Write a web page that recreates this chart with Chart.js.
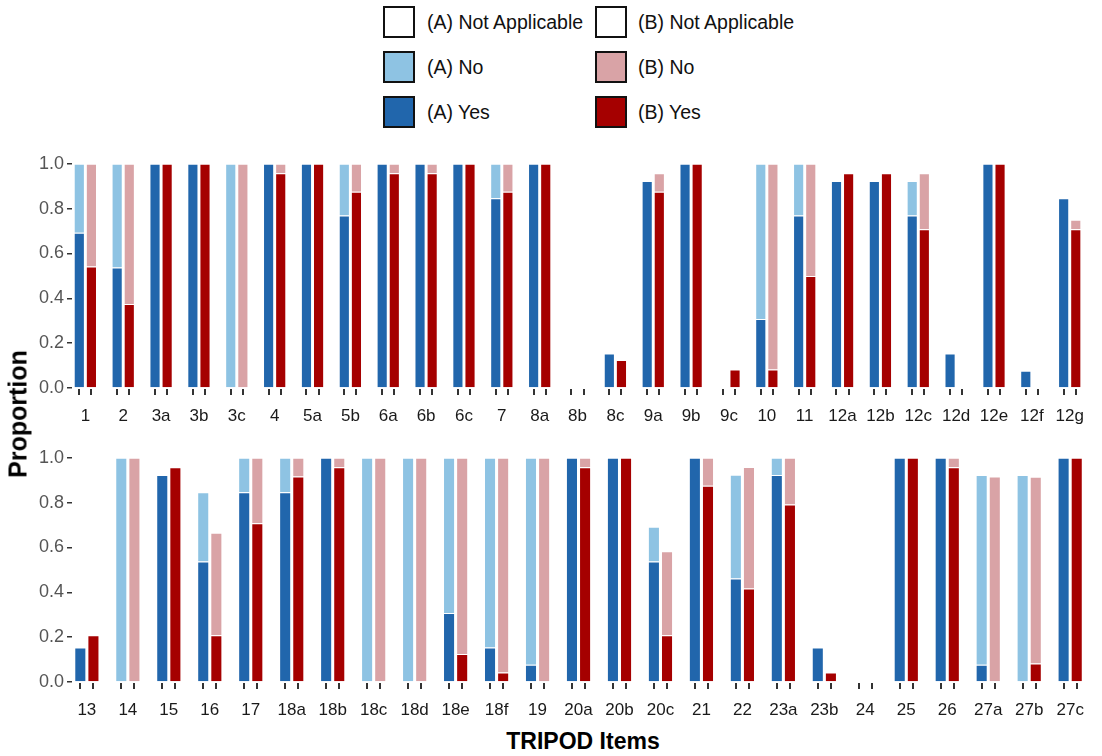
<!DOCTYPE html>
<html>
<head>
<meta charset="utf-8">
<script src="https://cdn.jsdelivr.net/npm/chart.js@4/dist/chart.umd.min.js"></script>
<style>
  body { margin: 0; width: 1102px; height: 756px; background: #fff; position: relative; overflow: hidden;
         font-family: 'Liberation Sans', Arial, sans-serif; }
  .panel { position: absolute; left: 0; width: 1102px; height: 280px; }
  #legend { position: absolute; left: 0; top: 0; }
  .key { position: absolute; width: 28px; height: 28px; border: 2px solid #111; }
  .lab { position: absolute; font-size: 19.5px; color: #111; line-height: 32px; white-space: nowrap; }
  #ytitle { position: absolute; left: 18px; top: 414px; transform: translate(-50%, -50%) rotate(-90deg);
            font-weight: bold; font-size: 25px; color: #000; white-space: nowrap; }
  #xtitle { position: absolute; left: 583px; top: 741px; transform: translate(-50%, -50%);
            font-weight: bold; font-size: 23px; color: #000; white-space: nowrap; }
</style>
</head>
<body>
<div id="legend"></div>
<div class="panel" style="top:150px"><canvas id="top"></canvas></div>
<div class="panel" style="top:444px"><canvas id="bottom"></canvas></div>
<div id="ytitle">Proportion</div>
<div id="xtitle">TRIPOD Items</div>
<script>
// Items, first row
const labelsTop = ['1','2','3a','3b','3c','4','5a','5b','6a','6b','6c','7','8a','8b','8c','9a','9b','9c','10','11','12a','12b','12c','12d','12e','12f','12g'];
const yesATop = [0.692,0.538,1,1,0,1,1,0.769,1,1,1,0.846,1,0,0.154,0.923,1,0,0.308,0.769,0.923,0.923,0.769,0.154,1,0.077,0.846];
const noATop  = [0.308,0.462,0,0,1,0,0,0.231,0,0,0,0.154,0,0,0,0,0,0,0.692,0.231,0,0,0.154,0,0,0,0];
const naATop  = [0,0,0,0,0,0,0,0,0,0,0,0,0,1,0.846,0.077,0,1,0,0,0.077,0.077,0.077,0.846,0,0.923,0.154];
const yesBTop = [0.542,0.375,1,1,0,0.958,1,0.875,0.958,0.958,1,0.875,1,0,0.125,0.875,1,0.083,0.083,0.5,0.958,0.958,0.708,0,1,0,0.708];
const noBTop  = [0.458,0.625,0,0,1,0.042,0,0.125,0.042,0.042,0,0.125,0,0,0,0.083,0,0,0.917,0.5,0,0,0.25,0,0,0,0.042];
const naBTop  = [0,0,0,0,0,0,0,0,0,0,0,0,0,1,0.875,0.042,0,0.917,0,0,0.042,0.042,0.042,1,0,1,0.25];

// Items, second row
const labelsBot = ['13','14','15','16','17','18a','18b','18c','18d','18e','18f','19','20a','20b','20c','21','22','23a','23b','24','25','26','27a','27b','27c'];
const yesABot = [0.154,0,0.923,0.538,0.846,0.846,1,0,0,0.308,0.154,0.077,1,1,0.538,1,0.462,0.923,0.154,0,1,1,0.077,0,1];
const noABot  = [0,1,0,0.308,0.154,0.154,0,1,1,0.692,0.846,0.923,0,0,0.154,0,0.462,0.077,0,0,0,0,0.846,0.923,0];
const naABot  = [0.846,0,0.077,0.154,0,0,0,0,0,0,0,0,0,0,0.308,0,0.077,0,0.846,1,0,0,0.077,0.077,0];
const yesBBot = [0.208,0,0.958,0.208,0.708,0.917,0.958,0,0,0.125,0.042,0,0.958,1,0.208,0.875,0.417,0.792,0.042,0,1,0.958,0,0.083,1];
const noBBot  = [0,1,0,0.458,0.292,0.083,0.042,1,1,0.875,0.958,1,0.042,0,0.375,0.125,0.542,0.208,0,0,0,0.042,0.917,0.833,0];
const naBBot  = [0.792,0,0.042,0.333,0,0,0,0,0,0,0,0,0,0,0.417,0,0.042,0,0.958,1,0,0,0.083,0.083,0];

const colors = {
    naA: '#ffffff', noA: '#8ec3e3', yesA: '#2166ac',
    naB: '#ffffff', noB: '#d9a3a6', yesB: '#a50000'
};

Chart.defaults.font.family = "'Liberation Sans', Arial, sans-serif";
Chart.defaults.animation = false;

// Legend (two columns, three rows)
const legendItems = [
    ['(A) Not Applicable', colors.naA, 383, 427, 6],
    ['(A) No', colors.noA, 383, 427, 51],
    ['(A) Yes', colors.yesA, 383, 427, 96],
    ['(B) Not Applicable', colors.naB, 595, 638, 6],
    ['(B) No', colors.noB, 595, 638, 51],
    ['(B) Yes', colors.yesB, 595, 638, 96]
];
const legend = document.getElementById('legend');
legendItems.forEach(function(it) {
    const box = document.createElement('div');
    box.className = 'key';
    box.style.left = it[2] + 'px';
    box.style.top = it[4] + 'px';
    box.style.background = it[1];
    legend.appendChild(box);
    const txt = document.createElement('div');
    txt.className = 'lab';
    txt.style.left = it[3] + 'px';
    txt.style.top = it[4] + 'px';
    txt.textContent = it[0];
    legend.appendChild(txt);
});

// small tick under each bar
const barTicks = {
    id: 'barTicks',
    afterDraw(chart) {
        const ctx = chart.ctx;
        const bottom = chart.chartArea.bottom;
        ctx.save();
        ctx.strokeStyle = '#333';
        ctx.lineWidth = 2;
        [0, 3].forEach(function(di) {
            chart.getDatasetMeta(di).data.forEach(function(bar) {
                const x = Math.round(bar.x);
                ctx.beginPath();
                ctx.moveTo(x, bottom + 1);
                ctx.lineTo(x, bottom + 7);
                ctx.stroke();
            });
        });
        ctx.restore();
    }
};

function pts(arr) {
    return arr.map((v, i) => ({ x: i, y: v }));
}

function makePanel(id, labels, yesA, noA, naA, yesB, noB, naB, xmin, xmax) {
    const ds = function(label, data, color, stack) {
        return {
            label: label, data: pts(data), stack: stack,
            backgroundColor: color, borderColor: '#ffffff', borderWidth: 1,
            categoryPercentage: 0.64, barPercentage: 0.92
        };
    };
    return new Chart(document.getElementById(id), {
        type: 'bar',
        data: {
            datasets: [
                ds('(A) Yes', yesA, colors.yesA, 'A'),
                ds('(A) No', noA, colors.noA, 'A'),
                ds('(A) Not Applicable', naA, colors.naA, 'A'),
                ds('(B) Yes', yesB, colors.yesB, 'B'),
                ds('(B) No', noB, colors.noB, 'B'),
                ds('(B) Not Applicable', naB, colors.naB, 'B')
            ]
        },
        options: {
            responsive: true,
            maintainAspectRatio: false,
            layout: { padding: { top: 10, right: 8, left: 0, bottom: 0 } },
            plugins: { legend: { display: false }, tooltip: { enabled: false } },
            scales: {
                x: {
                    type: 'linear',
                    stacked: true,
                    offset: false,
                    min: xmin,
                    max: xmax,
                    grid: { display: false, drawTicks: false },
                    border: { display: false },
                    afterBuildTicks: function(scale) {
                        scale.ticks = labels.map((l, i) => ({ value: i }));
                    },
                    afterFit: function(scale) { scale.height = 42; },
                    ticks: {
                        autoSkip: false,
                        maxRotation: 0,
                        padding: 18,
                        color: '#1a1a1a',
                        font: { size: 17 },
                        callback: function(v) { return labels[Math.round(v)]; }
                    }
                },
                y: {
                    stacked: true,
                    min: 0,
                    max: 1,
                    grid: { drawOnChartArea: false, tickLength: 5, color: '#333', lineWidth: 1.5 },
                    border: { display: false },
                    afterFit: function(scale) { scale.width = 72; },
                    ticks: {
                        stepSize: 0.2,
                        padding: 3,
                        color: '#555555',
                        font: { size: 18 },
                        callback: function(v) { return Number(v).toFixed(1); }
                    }
                }
            }
        },
        plugins: [barTicks]
    });
}

makePanel('top', labelsTop, yesATop, noATop, naATop, yesBTop, noBTop, naBTop, -0.353, 26.353);
makePanel('bottom', labelsBot, yesABot, noABot, naABot, yesBBot, noBBot, naBBot, -0.363, 24.363);
</script>
</body>
</html>
